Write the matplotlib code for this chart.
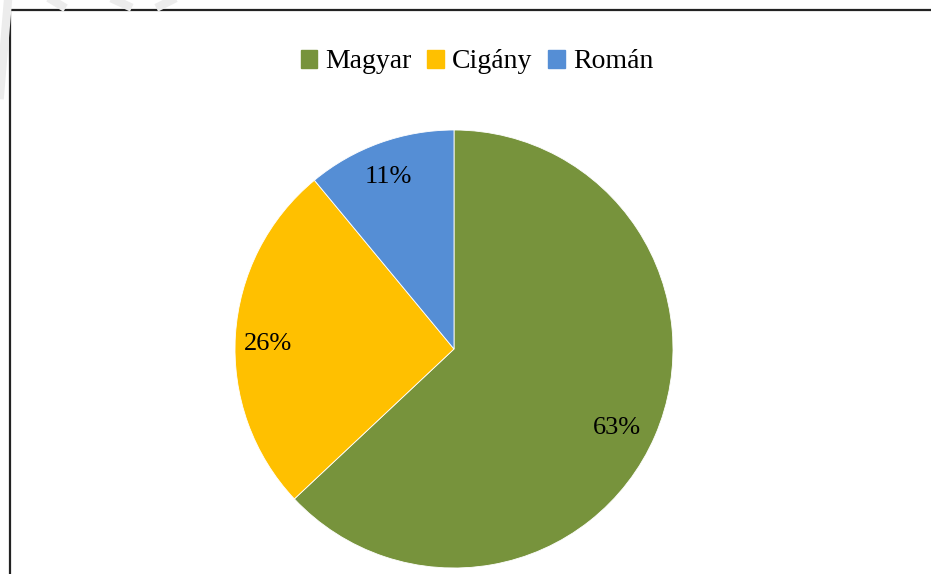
import matplotlib.pyplot as plt
from matplotlib.lines import Line2D

labels = ['Magyar', 'Cigány', 'Román']
shares = [63, 26, 11]
colors = ['#77933C', '#FFC000', '#558ED5']

plt.rcParams['font.family'] = ['Liberation Serif', 'DejaVu Serif']

W, H = 931, 574
fig = plt.figure(figsize=(W / 100, H / 100), dpi=100)

# pie area: centre (454, 349) px, radius ~219 px
r = 219
ax = fig.add_axes([(454 - r) / W, 1 - (349 + r) / H, 2 * r / W, 2 * r / H])
wedges, _, autotexts = ax.pie(
    shares, colors=colors, startangle=90, counterclock=False,
    autopct='%d%%', pctdistance=0.83, radius=1,
    wedgeprops=dict(linewidth=0.6, edgecolor='white'),
    textprops=dict(fontsize=19, color='black'))
# small per-label nudges for the percentages
for t, (dx, dy) in zip(autotexts, [(-0.02, -0.03), (-0.02, -0.03), (-0.02, 0.005)]):
    x, y = t.get_position()
    t.set_position((x + dx, y + dy))
ax.set_xlim(-1, 1)
ax.set_ylim(-1, 1)
ax.set_aspect('equal')
ax.axis('off')

# legend across the top
handles = [plt.Rectangle((0, 0), 1, 1, color=c) for c in colors]
fig.legend(handles, labels, loc='center', bbox_to_anchor=(477 / W, 1 - 62 / H),
           ncol=3, frameon=False, fontsize=20, handlelength=0.6, handleheight=0.6,
           handletextpad=0.3, columnspacing=0.55)

# chart frame (left and top edges)
fig.add_artist(Line2D([9.5 / W, 9.5 / W, 1], [0, 1 - 9.5 / H, 1 - 9.5 / H],
                      transform=fig.transFigure, color='#222222', linewidth=1.6))

# faint watermark strokes in the corner
for xs, ys in [([0, 8], [95, 0]), ([52, 62], [0, 6]), ([115, 128], [0, 6]), ([160, 172], [6, 0])]:
    fig.add_artist(Line2D([x / W for x in xs], [1 - y / H for y in ys],
                          transform=fig.transFigure, color='#ececec', linewidth=6))

fig.savefig('out.png', dpi=100)
